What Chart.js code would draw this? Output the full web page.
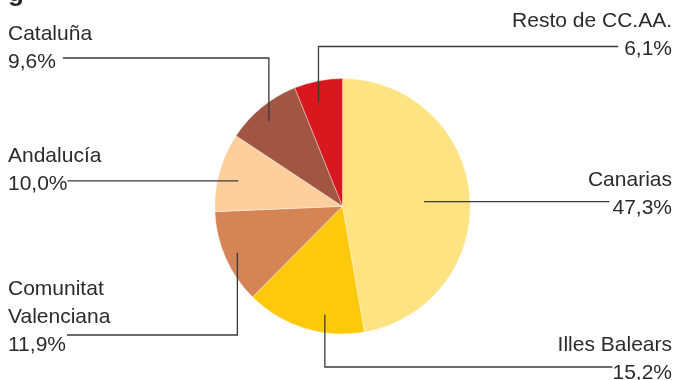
<!DOCTYPE html>
<html>
<head>
<meta charset="utf-8">
<script src="https://cdn.jsdelivr.net/npm/chart.js@4.4.1/dist/chart.umd.min.js"></script>
<style>
  html, body { margin: 0; padding: 0; background: #fff; }
  canvas { display: block; }
</style>
</head>
<body>
<canvas id="pieChart" width="674" height="380"></canvas>
<script>
var regiones = ['Canarias', 'Illes Balears', 'Comunitat Valenciana', 'Andalucía', 'Cataluña', 'Resto de CC.AA.'];
var porcentajes = [47.3, 15.2, 11.9, 10.0, 9.6, 6.1];
var colores = ['#fee382', '#fec90d', '#d48455', '#fccf9d', '#a05643', '#d7191f'];
var titulo = 'g';

// label layout: text block, where the leader leaves the slice (fraction of arc, fraction of radius)
var etiquetas = [
    {lines: ['Canarias'], side: 'right', y: 186, lineY: null, at: 0.51, r: 0.64, gap: 3},
    {lines: ['Illes Balears'], side: 'right', y: 351, lineY: 367, at: 0.35, r: 0.86, gap: 0},
    {lines: ['Comunitat', 'Valenciana'], side: 'left', y: 295, lineY: 335, at: 0.5, r: 0.9, gap: 1},
    {lines: ['Andalucía'], side: 'left', y: 161.5, lineY: null, at: 0.45, r: 0.84, gap: 0},
    {lines: ['Cataluña'], side: 'left', y: 39.5, lineY: 58, at: 0.45, r: 0.88, gap: 7},
    {lines: ['Resto de CC.AA.'], side: 'right', y: 26.5, lineY: 46.5, at: 0.41, r: 0.84, gap: 6}
];

function pct(v){
    return v.toFixed(1).replace('.', ',') + '%';
}

var leaderLabels = {
    id: 'leaderLabels',
    afterDatasetsDraw: function(chart){
        var ctx = chart.ctx;
        var arcs = chart.getDatasetMeta(0).data;
        var lineH = 28;
        ctx.save();
        ctx.font = '21px "Liberation Sans", Arial, sans-serif';
        ctx.textBaseline = 'alphabetic';

        for(var i = 0; i < arcs.length; i++){
            var a = arcs[i];
            var lab = etiquetas[i];
            var ang = a.startAngle + (a.endAngle - a.startAngle) * lab.at;
            var ax = a.x + Math.cos(ang) * a.outerRadius * lab.r;
            var ay = a.y + Math.sin(ang) * a.outerRadius * lab.r;
            var ly = lab.lineY === null ? ay : lab.lineY;

            var textLines = lab.lines.concat([pct(porcentajes[i])]);
            var valW = ctx.measureText(textLines[textLines.length - 1]).width;
            ctx.fillStyle = '#2b2b2b';
            ctx.textAlign = lab.side == 'left' ? 'left' : 'right';
            var tx = lab.side == 'left' ? 8 : 672;
            for(var k = 0; k < textLines.length; k++){
                ctx.fillText(textLines[k], tx, lab.y + k * lineH);
            }

            var ex = lab.side == 'left' ? tx + valW + lab.gap : tx - valW - lab.gap;
            ctx.strokeStyle = '#3a3a3a';
            ctx.lineWidth = 1.3;
            ctx.beginPath();
            ctx.moveTo(ax, ay);
            ctx.lineTo(ax, ly);
            ctx.lineTo(ex, ly);
            ctx.stroke();
        }

        // title, cut off by the top edge
        ctx.font = 'bold 26px "Liberation Sans", Arial, sans-serif';
        ctx.textAlign = 'left';
        ctx.fillStyle = '#222';
        ctx.fillText(titulo, 8, 1);
        ctx.restore();
    }
};

var pieChart = new Chart(document.getElementById('pieChart').getContext('2d'), {
    type: 'pie',
    data: {
        labels: regiones,
        datasets: [{
            data: porcentajes,
            backgroundColor: colores,
            borderColor: 'rgba(255,255,255,0.6)',
            borderWidth: 0.6
        }]
    },
    options: {
        responsive: false,
        animation: false,
        layout: {
            padding: {left: 214.5, right: 203.5, top: 78.3, bottom: 45.7}
        },
        plugins: {
            legend: {display: false},
            tooltip: {enabled: false}
        }
    },
    plugins: [leaderLabels]
});
</script>
</body>
</html>
